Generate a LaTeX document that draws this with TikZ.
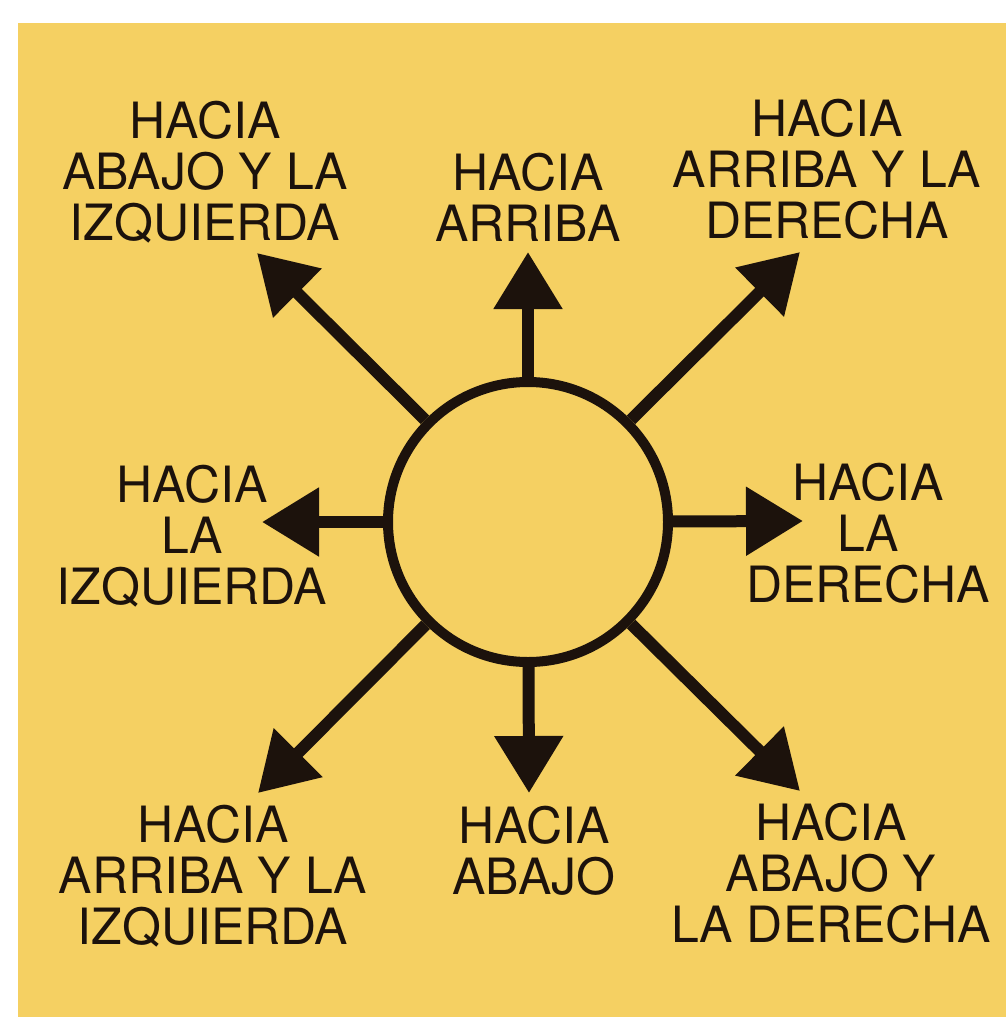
\documentclass[tikz,border=0pt]{standalone}
\usepackage{fontspec}
\setmainfont{TeX Gyre Heros}
\usetikzlibrary{arrows.meta}
\definecolor{paper}{RGB}{245,208,98}
\definecolor{ink}{RGB}{28,18,12}
\tikzset{
  lbl/.style={anchor=north, inner sep=0pt, align=center, text=ink,
    font=\fontsize{50}{51}\selectfont},
  ray/.style={draw=ink, line width=12pt,
    -{Triangle[length=57pt,width=66pt]}},
  hub/.style={circle, draw=ink, line width=10pt, minimum size=280pt, inner sep=0pt}
}
\begin{document}
\begin{tikzpicture}[x=1pt,y=-1pt]
\useasboundingbox (0,0) rectangle (1006,1017);
\fill[white] (0,0) rectangle (1006,1017);
\fill[paper] (18,23) rectangle (1006,1017);

\node[hub] (c) at (528,522) {};

\coordinate (tN)  at (528,252);
\coordinate (tS)  at (529,793);
\coordinate (tW)  at (262,522);
\coordinate (tE)  at (803,521);
\coordinate (tNW) at (257,253);
\coordinate (tNE) at (800,252);
\coordinate (tSW) at (258,793);
\coordinate (tSE) at (800,791);

\draw[ray] (c) -- (tN);
\draw[ray] (c) -- (tS);
\draw[ray] (c) -- (tW);
\draw[ray] (c) -- (tE);
\draw[ray] (c) -- (tNW);
\draw[ray] (c) -- (tNE);
\draw[ray] (c) -- (tSW);
\draw[ray] (c) -- (tSE);

\node[lbl] (lNW) at (205,101) {HACIA\\ABAJO Y LA\\IZQUIERDA};
\node[lbl] (lN)  at (528,153) {HACIA\\ARRIBA};
\node[lbl] (lNE) at (827,99)  {HACIA\\ARRIBA Y LA\\DERECHA};
\node[lbl] (lW)  at (192,465) {HACIA\\LA\\IZQUIERDA};
\node[lbl] (lE)  at (868,463) {HACIA\\LA\\DERECHA};
\node[lbl] (lSW) at (213,805) {HACIA\\ARRIBA Y LA\\IZQUIERDA};
\node[lbl] (lS)  at (534,806) {HACIA\\ABAJO};
\node[lbl] (lSE) at (831,803) {HACIA\\ABAJO Y\\LA DERECHA};
\end{tikzpicture}
\end{document}
